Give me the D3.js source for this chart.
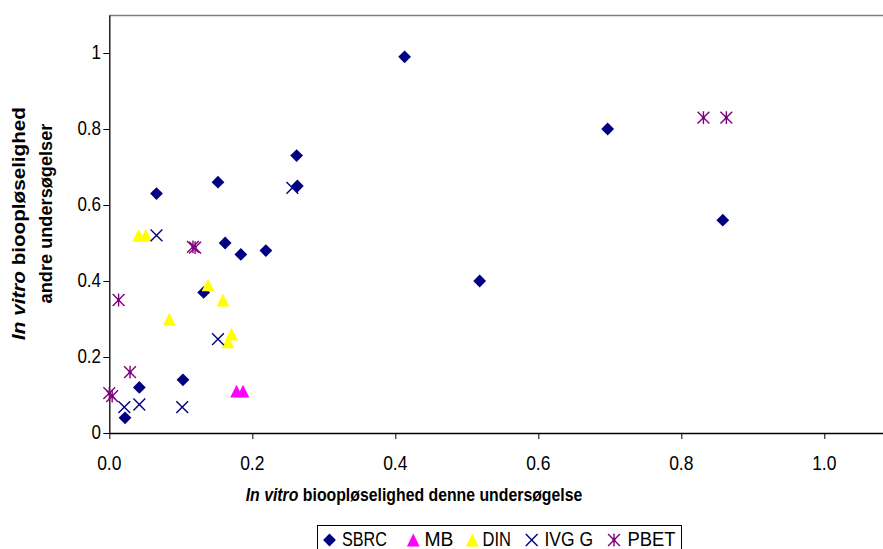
<!DOCTYPE html>
<html><head><meta charset="utf-8">
<script src="https://cdn.jsdelivr.net/npm/d3@7"></script>
<style>body{margin:0;background:#fff}svg{display:block}text{font-family:Arial,"Liberation Sans",sans-serif;fill:#000}</style>
</head><body>
<svg id="c" width="883" height="549"></svg>
<script>
// ---- data ----
const sbrcX = [0.413, 0.697, 0.858, 0.518, 0.262, 0.263, 0.066, 0.152, 0.162, 0.184, 0.219, 0.132, 0.103, 0.042, 0.022];
const sbrcY = [0.99, 0.80, 0.56, 0.40, 0.73, 0.65, 0.63, 0.66, 0.50, 0.47, 0.48, 0.37, 0.14, 0.12, 0.04];
const mbX = [0.178, 0.187];
const mbY = [0.11, 0.11];
const dinX = [0.041, 0.051, 0.138, 0.159, 0.084, 0.171, 0.166];
const dinY = [0.52, 0.52, 0.39, 0.35, 0.30, 0.26, 0.24];
const ivgX = [0.066, 0.152, 0.102, 0.042, 0.021, 0.256];
const ivgY = [0.52, 0.247, 0.068, 0.075, 0.068, 0.645];
const pbetX = [0.831, 0.863, 0.117, 0.120, 0.013, 0.029, 0.0, 0.004];
const pbetY = [0.83, 0.83, 0.49, 0.488, 0.35, 0.16, 0.105, 0.097];
const xTicks = [0, 0.2, 0.4, 0.6, 0.8, 1.0];
const xTickLabels = ["0.0", "0.2", "0.4", "0.6", "0.8", "1.0"];
const yTicks = [0, 0.2, 0.4, 0.6, 0.8, 1];
const yTickLabels = ["0", "0.2", "0.4", "0.6", "0.8", "1"];
const seriesNames = ["SBRC", "MB", "DIN", "IVG G", "PBET"];

// ---- layout ----
const svg = d3.select("#c");
const plotLeft = 109.3, plotTop = 15, plotBottom = 433;
const x = d3.scaleLinear().domain([0, 1.1]).range([plotLeft, plotLeft + 715 * 1.1]);
const y = d3.scaleLinear().domain([0, 1.1]).range([plotBottom, plotTop]);
const navy = "#000080", magenta = "#FF00FF", yellow = "#FFFF00", purple = "#800080";
const vs = 1.15; // vertical text stretch

// plot area top border
svg.append("line").attr("x1", plotLeft).attr("x2", 883).attr("y1", plotTop + 0.5).attr("y2", plotTop + 0.5)
  .attr("stroke", "#808080").attr("stroke-width", 1.3);

// axes
const xAxis = svg.append("g").attr("transform", `translate(0,${plotBottom})`)
  .call(d3.axisBottom(x).tickValues(xTicks).tickSize(6).tickSizeOuter(0).tickFormat(""));
const yAxis = svg.append("g").attr("transform", `translate(${plotLeft},0)`)
  .call(d3.axisLeft(y).tickValues(yTicks).tickSize(6).tickSizeOuter(0).tickFormat(""));
[xAxis, yAxis].forEach(g => {
  g.select(".domain").attr("stroke", "#000").attr("stroke-width", 1.3);
  g.selectAll(".tick line").attr("stroke", "#000").attr("stroke-width", 1);
});
xAxis.select(".domain").attr("d", `M${plotLeft},0.5H883`);

// tick labels
svg.selectAll(".xl").data(xTicks).enter().append("text")
  .attr("transform", (d) => `translate(${x(d)},469.5) scale(1,${vs})`)
  .attr("text-anchor", "middle").attr("font-size", 17.5)
  .text((d, i) => xTickLabels[i]);
svg.selectAll(".yl").data(yTicks).enter().append("text")
  .attr("transform", (d) => `translate(101,${y(d) + 6}) scale(1,${vs})`)
  .attr("text-anchor", "end").attr("font-size", 17)
  .text((d, i) => yTickLabels[i]);

// titles fitted to a target length via a uniform transform along the text direction
function fitTitle(tx, ty, rot, size, targetLen, parts) {
  const t = svg.append("text").attr("text-anchor", "middle")
    .attr("font-size", size).attr("font-weight", "bold");
  parts.forEach(p => t.append("tspan").attr("font-style", p.italic ? "italic" : null).text(p.s));
  const w = t.node().getComputedTextLength();
  const k = targetLen / w;
  t.attr("transform", `translate(${tx},${ty}) rotate(${rot}) scale(${k},1)`);
}
fitTitle(414, 501, 0, 19, 337, [{s: "In vitro", italic: true}, {s: " bioopløselighed denne undersøgelse"}]);
fitTitle(25, 223.5, -90, 18, 233, [{s: "In vitro", italic: true}, {s: " bioopløselighed"}]);
fitTitle(52, 213.5, -90, 18, 180, [{s: "andre undersøgelser"}]);

// marker shapes
const r = 6.4;
const shapes = {
  diamond: `M0,${-r}L${r},0L0,${r}L${-r},0Z`,
  triangle: `M0,${-r}L${r},${r}L${-r},${r}Z`,
  cross: `M${-r + 0.5},${-r + 0.5}L${r - 0.5},${r - 0.5}M${-r + 0.5},${r - 0.5}L${r - 0.5},${-r + 0.5}`,
  star: `M${-r + 0.5},${-r + 0.5}L${r - 0.5},${r - 0.5}M${-r + 0.5},${r - 0.5}L${r - 0.5},${-r + 0.5}M0,${-r}L0,${r}`
};
const styles = [
  {shape: "diamond", fill: navy, stroke: "none"},
  {shape: "triangle", fill: magenta, stroke: "none"},
  {shape: "triangle", fill: yellow, stroke: "none"},
  {shape: "cross", fill: "none", stroke: navy},
  {shape: "star", fill: "none", stroke: purple}
];
function drawMarker(g, st, cx, cy) {
  g.append("path").attr("d", shapes[st.shape]).attr("transform", `translate(${cx},${cy})`)
    .attr("fill", st.fill).attr("stroke", st.stroke).attr("stroke-width", 1.4);
  if (st.shape === "star") g.append("circle").attr("cx", cx).attr("cy", cy).attr("r", 1.6).attr("fill", purple);
}

const series = [[sbrcX, sbrcY], [mbX, mbY], [dinX, dinY], [ivgX, ivgY], [pbetX, pbetY]];
const plot = svg.append("g");
series.forEach(([xs, ys], si) => {
  const g = plot.append("g");
  xs.forEach((xv, i) => drawMarker(g, styles[si], x(xv), y(ys[i])));
});

// legend
const lg = svg.append("g");
lg.append("rect").attr("x", 317.5).attr("y", 525.5).attr("width", 364).attr("height", 40)
  .attr("fill", "#fff").attr("stroke", "#000").attr("stroke-width", 1);
const markerX = [329.5, 413.3, 472.3, 531.7, 614];
const textX = [342, 424.5, 482.5, 544.5, 627.5];
const textW = [45, 29, 28.5, 48.5, 48];
seriesNames.forEach((n, i) => {
  drawMarker(lg, styles[i], markerX[i], 540);
  lg.append("text").attr("transform", `translate(${textX[i]},545.5) scale(1,1.12)`)
    .attr("font-size", 18).attr("textLength", textW[i]).attr("lengthAdjust", "spacingAndGlyphs")
    .text(n);
});
</script>
</body></html>
